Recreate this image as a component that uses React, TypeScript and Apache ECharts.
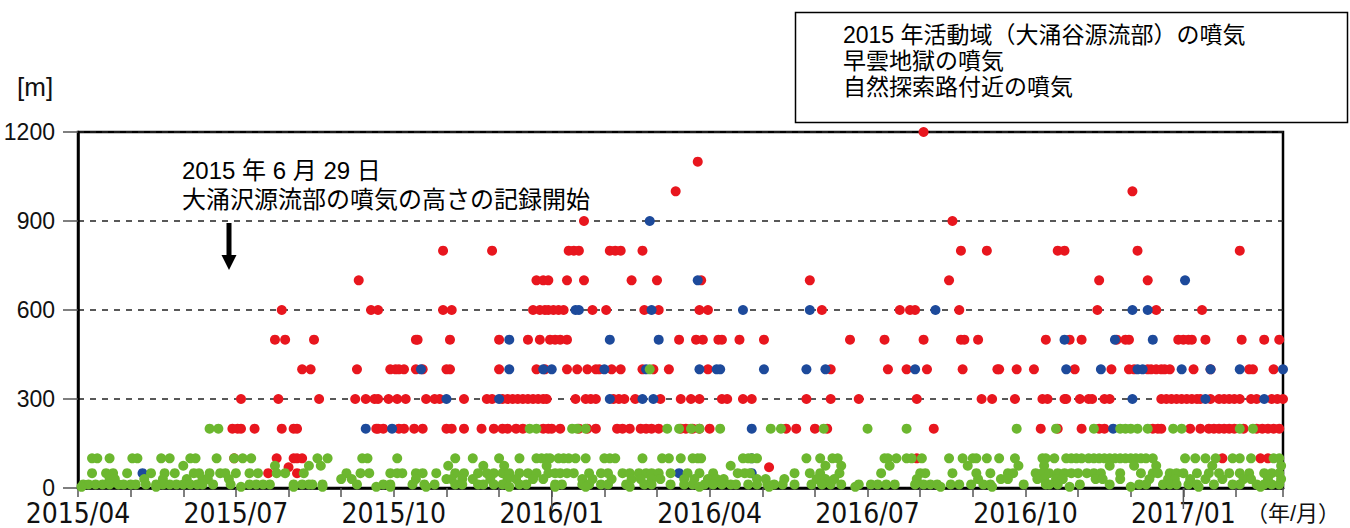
import React, { useEffect, useRef } from "react";
import * as echarts from "echarts";

// Day offsets are counted from 2015-04-01.
const START_UTC = Date.UTC(2015, 3, 1);
const END_DAY = 697; // 2017-02-26, right edge of the plot

const RED_NAME = "2015 年活動域（大涌谷源流部）の噴気";
const GREEN_NAME = "早雲地獄の噴気";
const BLUE_NAME = "自然探索路付近の噴気";

const Y_MIN = 0;
const Y_MAX = 1200;
const Y_STEP = 300;
const YEAR_TICK_MONTHS = [9, 21]; // 2016/01, 2017/01

// [height (m), day offsets]
const redLevels: [number, number[]][] = [
  [1200, [490]],
  [1100, [359]],
  [1000, [346, 611]],
  [900, [294, 507]],
  [800, [212, 240, 285, 288, 291, 309, 312, 315, 327, 512, 527, 568, 572, 614, 674]],
  [700, [163, 266, 270, 273, 284, 294, 321, 335, 361, 424, 505, 592, 620]],
  [600, [118, 170, 174, 212, 217, 264, 268, 271, 273, 276, 279, 282, 299, 307, 328, 336, 360, 365, 431, 476, 482, 485, 511, 591, 625, 652]],
  [500, [114, 120, 137, 196, 197, 216, 244, 261, 268, 274, 277, 280, 284, 348, 358, 362, 371, 373, 383, 397, 447, 467, 490, 512, 514, 522, 561, 575, 582, 602, 607, 609, 638, 641, 644, 646, 654, 675, 687, 695]],
  [400, [130, 135, 162, 181, 184, 186, 189, 196, 200, 214, 216, 244, 266, 271, 284, 290, 296, 301, 303, 310, 315, 327, 333, 342, 365, 436, 469, 480, 492, 513, 533, 534, 544, 554, 578, 599, 609, 612, 620, 622, 625, 628, 630, 633, 647, 657, 679, 681, 692]],
  [300, [94, 116, 140, 161, 167, 172, 174, 180, 185, 190, 202, 207, 210, 224, 237, 240, 246, 249, 252, 255, 258, 261, 264, 267, 270, 272, 289, 295, 298, 301, 311, 314, 317, 323, 337, 349, 355, 360, 373, 376, 385, 390, 422, 436, 452, 486, 524, 530, 543, 559, 562, 572, 573, 581, 586, 588, 595, 598, 628, 631, 634, 637, 640, 643, 646, 649, 651, 657, 662, 665, 668, 671, 674, 680, 683, 691, 694, 697]],
  [200, [89, 92, 94, 102, 118, 125, 127, 173, 174, 177, 186, 189, 195, 200, 214, 217, 224, 234, 241, 246, 249, 254, 258, 270, 273, 275, 280, 291, 296, 301, 313, 316, 320, 326, 329, 332, 336, 349, 352, 356, 360, 366, 410, 416, 427, 434, 496, 558, 568, 582, 592, 595, 623, 626, 628, 645, 651, 656, 659, 662, 665, 668, 671, 676, 683, 686, 689, 692, 695]],
  [100, [90, 115, 125, 127, 130, 486, 664, 685, 689]],
  [70, [122, 400]],
  [50, [110, 127]],
];

const blueLevels: [number, number[]][] = [
  [900, [331]],
  [700, [359, 642]],
  [600, [289, 291, 332, 385, 424, 497, 611, 620]],
  [500, [250, 309, 336, 572, 601, 623]],
  [400, [199, 250, 270, 275, 306, 329, 360, 370, 372, 397, 422, 433, 485, 573, 593, 614, 617, 640, 657, 674, 697]],
  [300, [214, 244, 309, 327, 333, 611, 654, 687]],
  [200, [167, 182, 390, 600]],
  [100, [390]],
  [50, [37, 348, 390]],
];

const greenLevels: [number, number[]][] = [
  [400, [331]],
  [200, [76, 81, 262, 266, 287, 290, 295, 341, 348, 355, 360, 372, 401, 407, 432, 457, 480, 544, 567, 589, 604, 607, 610, 614, 620, 635, 640, 674, 681]],
  [100, [8, 11, 18, 31, 34, 48, 53, 65, 68, 80, 90, 95, 100, 139, 145, 165, 168, 185, 219, 229, 244, 256, 266, 269, 272, 274, 279, 282, 285, 289, 295, 306, 309, 312, 327, 338, 342, 349, 356, 359, 361, 385, 388, 390, 393, 422, 430, 437, 440, 467, 469, 474, 480, 483, 489, 505, 513, 519, 521, 527, 534, 543, 559, 561, 566, 573, 576, 579, 582, 586, 589, 592, 595, 598, 601, 604, 607, 610, 613, 616, 619, 623, 642, 648, 654, 660, 670, 674, 680, 692, 695]],
  [75, [61, 114, 134, 141, 215, 235, 247, 272, 378, 433, 442, 470, 516, 545, 560, 598, 612, 625, 658, 696]],
  [50, [8, 16, 20, 28, 42, 50, 56, 67, 70, 76, 82, 85, 91, 99, 104, 115, 120, 131, 156, 164, 169, 181, 185, 188, 196, 200, 208, 219, 224, 232, 237, 241, 246, 250, 256, 261, 266, 273, 277, 280, 284, 288, 297, 304, 308, 316, 320, 325, 329, 332, 336, 343, 353, 360, 368, 382, 386, 389, 415, 424, 430, 441, 465, 488, 491, 507, 521, 529, 539, 542, 555, 559, 563, 568, 572, 576, 580, 585, 589, 593, 604, 616, 623, 626, 633, 637, 641, 649, 656, 662, 668, 674, 679, 687, 691, 695]],
  [30, [18, 21, 38, 49, 63, 72, 75, 87, 153, 159, 196, 214, 217, 223, 229, 239, 249, 254, 264, 270, 293, 299, 310, 321, 326, 332, 337, 351, 357, 365, 370, 374, 393, 398, 409, 428, 433, 438, 486, 522, 535, 539, 556, 560, 567, 571, 590, 594, 604, 621, 632, 636, 645, 654, 664, 676, 680, 689, 696]],
  [12, [3, 6, 10, 14, 18, 23, 26, 30, 33, 39, 45, 49, 53, 57, 61, 65, 69, 72, 78, 88, 99, 103, 107, 111, 125, 130, 134, 136, 142, 162, 177, 181, 194, 201, 207, 219, 223, 232, 235, 241, 246, 256, 260, 277, 281, 293, 297, 304, 308, 318, 328, 332, 343, 351, 356, 363, 368, 373, 378, 381, 388, 393, 399, 403, 408, 415, 425, 431, 436, 442, 452, 459, 463, 468, 473, 485, 490, 494, 498, 506, 511, 518, 525, 529, 548, 561, 563, 568, 581, 598, 615, 619, 629, 633, 637, 644, 649, 659, 670, 674, 683, 687, 691, 695]],
  [4, [2, 45, 94, 125, 142, 173, 181, 202, 250, 277, 295, 320, 360, 400, 450, 500, 530, 575, 610, 650, 685]],
];

// Convert a day offset into a position measured in months since 2015/04.
function monthPos(day: number): number {
  const d = new Date(START_UTC + day * 86400000);
  const y = d.getUTCFullYear();
  const m = d.getUTCMonth();
  const dim = new Date(Date.UTC(y, m + 1, 0)).getUTCDate();
  return (y - 2015) * 12 + (m - 3) + (d.getUTCDate() - 1) / dim;
}

function toPoints(levels: [number, number[]][]): number[][] {
  const out: number[][] = [];
  levels.forEach(([v, days]) => days.forEach((d) => out.push([monthPos(d), v])));
  return out;
}

function monthLabel(i: number): string {
  const total = 3 + i;
  const y = 2015 + Math.floor(total / 12);
  const m = (total % 12) + 1;
  return `${y}/${String(m).padStart(2, "0")}`;
}

const SANS = "'Liberation Sans', Arial, 'Noto Sans CJK JP', sans-serif";
const NARROW = "'DejaVu Sans Condensed', 'Liberation Sans Narrow', sans-serif";
const CJK = "'Liberation Sans', 'Noto Sans CJK JP', sans-serif";

export default function App() {
  const ref = useRef<HTMLDivElement>(null);

  useEffect(() => {
    if (!ref.current) return;
    const chart = echarts.init(ref.current, undefined, { renderer: "svg" });
    const xMax = monthPos(END_DAY);

    const option: any = {
      animation: false,
      backgroundColor: "#fff",
      grid: {
        left: 78,
        right: 67,
        top: 132,
        bottom: 40,
        show: true,
        borderColor: "#000",
        borderWidth: 2.5,
        containLabel: false,
      },
      legend: {
        data: [RED_NAME, GREEN_NAME, BLUE_NAME],
        orient: "vertical",
        left: 833,
        top: 17,
        itemWidth: 0,
        itemHeight: 0,
        itemGap: 0,
        selectedMode: false,
        textStyle: { fontSize: 23, color: "#000", fontFamily: CJK, lineHeight: 26 },
      },
      xAxis: {
        type: "value",
        min: 0,
        max: xMax,
        interval: 1,
        axisLine: { show: true, lineStyle: { color: "#000", width: 2.5 } },
        axisTick: { show: true, length: 9, lineStyle: { color: "#555", width: 1.5 } },
        axisLabel: {
          margin: 11,
          fontSize: 28,
          lineHeight: 28,
          fontFamily: NARROW,
          color: "#111",
          formatter: (v: number) => {
            const r = Math.round(v);
            if (Math.abs(v - r) > 1e-6 || r % 3 !== 0) return "";
            return monthLabel(r);
          },
        },
        splitLine: { show: false },
      },
      yAxis: {
        type: "value",
        min: Y_MIN,
        max: Y_MAX,
        interval: Y_STEP,
        axisLine: { show: true, lineStyle: { color: "#000", width: 2.5 } },
        axisTick: { show: true, length: 15, lineStyle: { color: "#555", width: 1.5 } },
        axisLabel: {
          margin: 23,
          fontSize: 23,
          lineHeight: 18,
          fontFamily: SANS,
          color: "#111",
          formatter: (v: number) => String(v),
        },
        splitLine: { show: true, lineStyle: { type: [6, 6], color: "#222", width: 1.5 } },
      },
      series: [
        {
          name: RED_NAME,
          type: "scatter",
          symbolSize: 10,
          clip: false,
          itemStyle: { color: "#e8161e", opacity: 1 },
          data: toPoints(redLevels),
        },
        {
          name: BLUE_NAME,
          type: "scatter",
          symbolSize: 10,
          clip: false,
          itemStyle: { color: "#1d4a9b", opacity: 1 },
          data: toPoints(blueLevels),
        },
        {
          name: GREEN_NAME,
          type: "scatter",
          symbolSize: 10,
          clip: false,
          itemStyle: { color: "#6cb72f", opacity: 1 },
          data: toPoints(greenLevels),
        },
        {
          name: "yearTicks",
          type: "custom",
          silent: true,
          clip: false,
          data: YEAR_TICK_MONTHS.map((m) => [m, Y_MIN]),
          renderItem: (_params: any, api: any) => {
            const p = api.coord([api.value(0), api.value(1)]);
            return {
              type: "line",
              shape: { x1: p[0], y1: p[1], x2: p[0], y2: p[1] + 21 },
              style: { stroke: "#555", lineWidth: 1.5 },
            };
          },
        },
      ],
      graphic: [
        {
          type: "rect",
          left: 793,
          top: 10,
          shape: { width: 552, height: 110 },
          style: { fill: "none", stroke: "#000", lineWidth: 1.5 },
          silent: true,
        },
        {
          type: "text",
          left: 17,
          top: 74,
          style: { text: "[m]", fontSize: 26, fontFamily: SANS, fill: "#111" },
        },
        {
          type: "text",
          left: 182,
          top: 158,
          style: { text: "2015 年 6 月 29 日", fontSize: 24, fontFamily: CJK, fill: "#000" },
        },
        {
          type: "text",
          left: 182,
          top: 187,
          style: { text: "大涌沢源流部の噴気の高さの記録開始", fontSize: 24, fontFamily: CJK, fill: "#000" },
        },
        {
          type: "rect",
          shape: { x: 226.5, y: 223, width: 5, height: 35 },
          style: { fill: "#000" },
          silent: true,
        },
        {
          type: "polygon",
          shape: { points: [[221.5, 255], [236.5, 255], [229, 270]] },
          style: { fill: "#000" },
          silent: true,
        },
        {
          type: "text",
          left: 1246,
          top: 502,
          style: { text: "（年/月）", fontSize: 22, fontFamily: CJK, fill: "#111" },
        },
      ],
    };

    chart.setOption(option);
    return () => chart.dispose();
  }, []);

  return (
    <div
      ref={ref}
      style={{ position: "fixed", left: 0, top: 0, width: 1350, height: 528, background: "#fff" }}
    />
  );
}
